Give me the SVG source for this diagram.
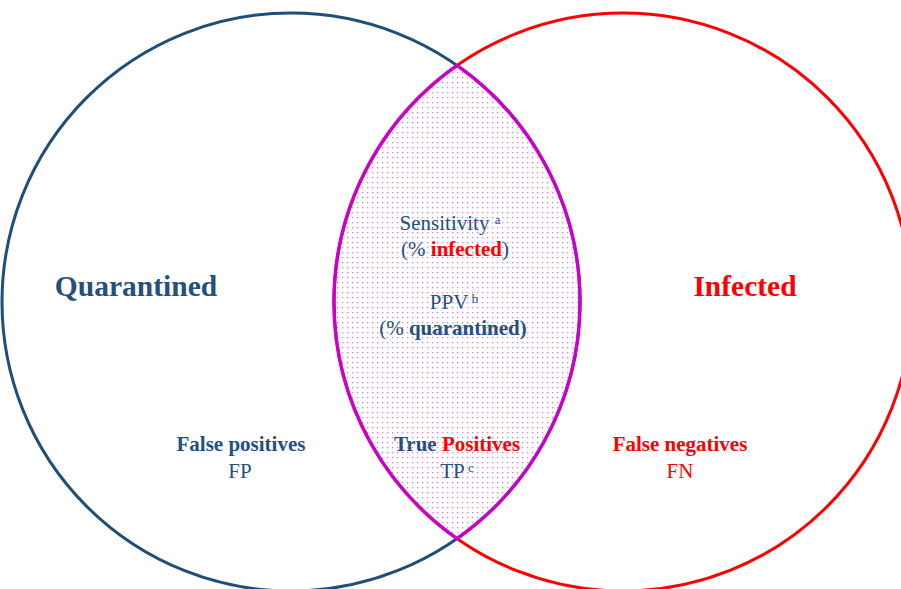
<svg xmlns="http://www.w3.org/2000/svg" width="901" height="589" viewBox="0 0 901 589">
<style>
text{font-family:"Liberation Serif","Times New Roman",serif;text-anchor:middle}
.b{font-weight:bold}
.blue{fill:#24507E}
.red{fill:#FF0000}
.big{font-size:29.5px}
.mid{font-size:21px}
.sup{font-size:13px}
</style>
<defs>
<pattern id="dots" width="5" height="5" patternUnits="userSpaceOnUse">
<rect x="2" y="2" width="1.3" height="1.3" fill="#DD77DD"/>
</pattern>
<clipPath id="clipL"><circle cx="291" cy="302" r="289"/></clipPath>
</defs>
<rect width="901" height="589" fill="#FFFFFF"/>
<g id="quarantined">
<circle cx="291" cy="302" r="289" fill="none" stroke="#1F4E79" stroke-width="3"/>
</g>
<g id="infected">
<circle cx="623" cy="302" r="289" fill="none" stroke="#FF0000" stroke-width="3"/>
</g>
<g id="overlap">
<circle cx="623" cy="302" r="289" fill="url(#dots)" clip-path="url(#clipL)"/>
<path d="M457,65.4 A289,289 0 0 1 457,538.6 A289,289 0 0 1 457,65.4 Z" fill="none" stroke="#CC00CC" stroke-width="3.4"/>
</g>
<g id="labels">
<text x="136" y="296" class="b big blue">Quarantined</text>
<text x="745" y="296" class="b big red">Infected</text>
<text x="450" y="230" class="mid blue">Sensitivity <tspan class="sup" dy="-6">a</tspan></text>
<text x="455" y="256" class="mid blue">(% <tspan class="b red">infected</tspan>)</text>
<text x="454" y="309" class="mid blue">PPV<tspan class="sup" dy="-6"> b</tspan></text>
<text x="453" y="335" class="mid blue">(% <tspan class="b">quarantined)</tspan></text>
<text x="241" y="451" class="b mid blue">False positives</text>
<text x="240" y="478" class="mid blue">FP</text>
<text x="457" y="451" class="b mid blue">True <tspan class="red">Positives</tspan></text>
<text x="457" y="478" class="mid blue">TP<tspan class="sup" dy="-6"> c</tspan></text>
<text x="680" y="451" class="b mid red">False negatives</text>
<text x="680" y="478" class="mid red">FN</text>
</g>
</svg>
